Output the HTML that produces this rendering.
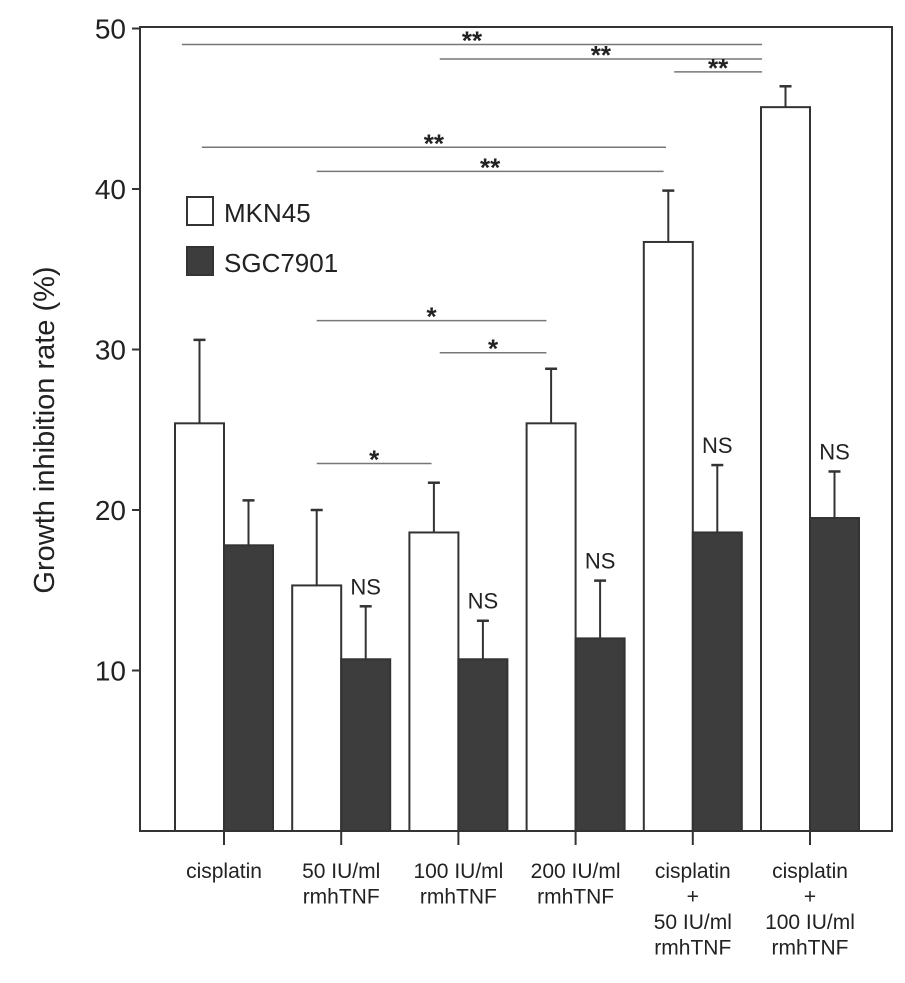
<!DOCTYPE html>
<html><head><meta charset="utf-8"><style>
body{margin:0;background:#fff;}
svg{display:block;font-family:"Liberation Sans",Arial,sans-serif;}
</style></head><body>
<svg id="chart" width="905" height="983" viewBox="0 0 905 983">
<rect x="140" y="27" width="752" height="804" fill="#fff" stroke="#333" stroke-width="2"/>
<g id="g"></g>
<text transform="translate(54,430) rotate(-90)" text-anchor="middle" font-size="29" fill="#222">Growth inhibition rate (%)</text>
<g>
<rect x="187" y="197" width="26" height="28" fill="#fff" stroke="#333" stroke-width="2"/>
<text x="224" y="222" font-size="26" fill="#222">MKN45</text>
<rect x="187" y="247" width="26" height="28" fill="#3d3d3d" stroke="#333" stroke-width="2"/>
<text x="224" y="272" font-size="26" fill="#222">SGC7901</text>
</g>
</svg>
<script>
const categories=[["cisplatin"],["50 IU/ml","rmhTNF"],["100 IU/ml","rmhTNF"],["200 IU/ml","rmhTNF"],["cisplatin","+","50 IU/ml","rmhTNF"],["cisplatin","+","100 IU/ml","rmhTNF"]];
const mkn45=[25.4,15.3,18.6,25.4,36.7,45.1];
const mkn45Err=[5.2,4.7,3.1,3.4,3.2,1.3];
const sgc7901=[17.8,10.7,10.7,12.0,18.6,19.5];
const sgc7901Err=[2.8,3.3,2.4,3.6,4.2,2.9];
const yTicks=[10,20,30,40,50];
const nsGroups=[1,2,3,4,5];
const sigFrom=[-0.15,2.05,4.05,0.02,1.0,1.0,2.05,1.0];
const sigTo=[4.8,4.8,4.8,3.98,3.96,2.96,2.96,1.98];
const sigLevel=[49.0,48.1,47.3,42.6,41.1,31.8,29.8,22.9];
const sigLabel=["**","**","**","**","**","*","*","*"];

const NS="http://www.w3.org/2000/svg";
const g=document.getElementById('g');
const y=v=>831-16.05*v;
const gx=i=>175+i*117.2;
const BW=49;
function mk(t,a,p){const e=document.createElementNS(NS,t);for(const k in a)e.setAttribute(k,a[k]);(p||g).appendChild(e);return e;}

yTicks.forEach(t=>{
  const l=mk('line',{x1:132,x2:140,y1:y(t),y2:y(t),stroke:'#333','stroke-width':2});
  
  
  const tx=mk('text',{x:126,y:y(t)+10,'text-anchor':'end','font-size':28,fill:'#222'});
  tx.textContent=t;
  
  
});

function bar(x,v,e,fill,name){
  const top=y(v+e);
  const el=mk('line',{x1:x+BW/2,x2:x+BW/2,y1:y(v),y2:top,stroke:'#333','stroke-width':2});
  
  
  const cap=mk('line',{x1:x+BW/2-6,x2:x+BW/2+6,y1:top,y2:top,stroke:'#333','stroke-width':2.5});
  
  
  const r=mk('rect',{x:x,y:y(v),width:BW,height:831-y(v),fill:fill,stroke:'#333','stroke-width':2});
  
  
}
categories.forEach((c,i)=>{
  bar(gx(i),mkn45[i],mkn45Err[i],'#fff','bar-mkn45-'+(i+1));
  bar(gx(i)+BW,sgc7901[i],sgc7901Err[i],'#3d3d3d','bar-sgc7901-'+(i+1));
  const cx=gx(i)+BW;
  const tk=mk('line',{x1:cx,x2:cx,y1:831,y2:845,stroke:'#333','stroke-width':2});
  
  
  c.forEach((s,j)=>{
    const t=mk('text',{x:cx,y:878+j*25.5,'text-anchor':'middle','font-size':21,fill:'#222'});
    t.textContent=s;
    
    
  });
});
nsGroups.forEach(i=>{
  const t=mk('text',{x:gx(i)+BW*1.5,y:y(sgc7901[i]+sgc7901Err[i])-12,'text-anchor':'middle','font-size':22,fill:'#222'});
  t.textContent='NS';
  
  
});
sigLevel.forEach((lv,k)=>{
  const x1=gx(sigFrom[k])+BW/2, x2=gx(sigTo[k])+BW/2;
  const l=mk('line',{x1:x1,x2:x2,y1:y(lv),y2:y(lv),stroke:'#777','stroke-width':1.5});
  
  
  const t=mk('text',{x:(x1+x2)/2,y:y(lv)+5,'text-anchor':'middle','font-size':26,'font-weight':'bold',fill:'#222'});
  t.textContent=sigLabel[k];
  
  
});
</script>
</body></html>
